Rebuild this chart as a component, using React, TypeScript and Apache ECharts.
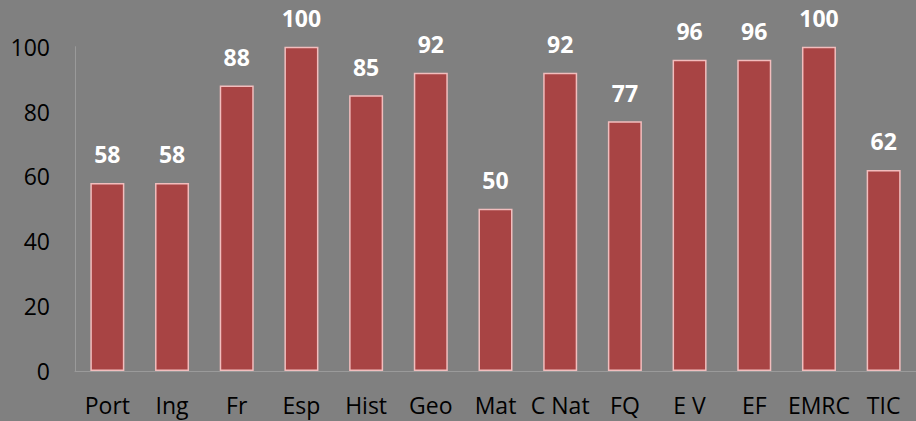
import React, { useEffect, useRef } from "react";
import * as echarts from "echarts";

const categories = ["Port", "Ing", "Fr", "Esp", "Hist", "Geo", "Mat", "C Nat", "FQ", "E V", "EF", "EMRC", "TIC"];
const values = [58, 58, 88, 100, 85, 92, 50, 92, 77, 96, 96, 100, 62];
const yTicks = { min: 0, max: 100, interval: 20 };

export default function App() {
  const ref = useRef<HTMLDivElement>(null);
  useEffect(() => {
    document.body.style.margin = "0";
    const chart = echarts.init(ref.current!, null, { renderer: "svg" });
    chart.setOption({
      animation: false,
      backgroundColor: "#808080",
      textStyle: { fontFamily: "Open Sans" },
      grid: { left: 75, top: 46.7, height: 324.3, width: 853, containLabel: false },
      xAxis: {
        type: "category",
        data: categories,
        axisLine: { show: true, lineStyle: { color: "#9a9a9a", width: 1 } },
        axisTick: { show: false },
        axisLabel: { color: "#000", fontSize: 23, margin: 22, interval: 0, fontFamily: "Open Sans" },
      },
      yAxis: {
        type: "value",
        min: yTicks.min,
        max: yTicks.max,
        interval: yTicks.interval,
        axisLine: { show: true, lineStyle: { color: "#9a9a9a", width: 1 } },
        axisTick: { show: false },
        splitLine: { show: false },
        axisLabel: { color: "#000", fontSize: 23, margin: 25, fontFamily: "Open Sans" },
      },
      series: [
        {
          type: "bar",
          data: values,
          barWidth: 34,
          itemStyle: { color: "#A84444", borderColor: "#F2BDBD", borderWidth: 1.5 },
          label: {
            show: true,
            position: "top",
            distance: 17,
            color: "#fff",
            fontSize: 23,
            fontWeight: "bold",
            fontFamily: "Open Sans",
          },
        },
      ],
    });
    return () => chart.dispose();
  }, []);
  return <div ref={ref} style={{ width: 916, height: 421 }} />;
}
